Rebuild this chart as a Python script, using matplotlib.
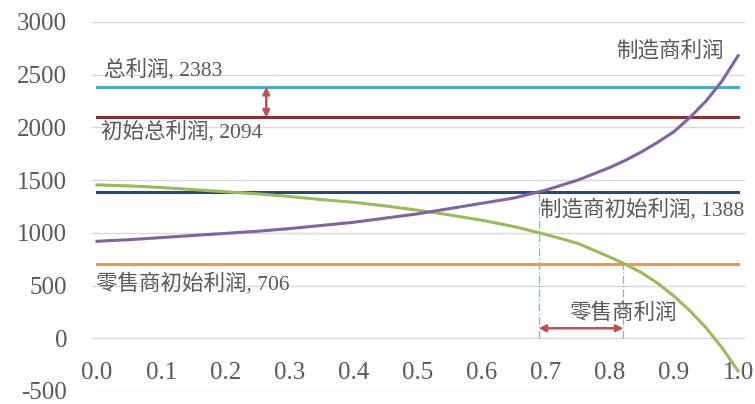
import matplotlib.pyplot as plt

# shared x positions (sharing ratio)
x = [0.00, 0.05, 0.10, 0.15, 0.20, 0.25, 0.30, 0.35, 0.40, 0.45, 0.50,
     0.55, 0.60, 0.65, 0.70, 0.75, 0.80, 0.825, 0.85, 0.875, 0.90,
     0.925, 0.95, 0.975, 1.00]

# manufacturer profit (purple) and retailer profit (green)
maker_profit = [920, 935, 955, 975, 995, 1015, 1040, 1070, 1100, 1140, 1180,
                1230, 1280, 1330, 1405, 1500, 1620, 1690, 1770, 1860, 1960,
                2095, 2250, 2440, 2680]
retail_profit = [1455, 1445, 1430, 1410, 1390, 1370, 1345, 1315, 1290, 1255, 1215,
                 1170, 1120, 1060, 985, 900, 770, 700, 620, 520, 400,
                 260, 100, -90, -310]

# constant reference levels
total_profit = 2383
init_total = 2094
init_maker = 1388
init_retail = 706

# crossing points marked with the dash-dot guides
x_maker_cross = 0.689
x_retail_cross = 0.821

xticks = [0.0, 0.1, 0.2, 0.3, 0.4, 0.5, 0.6, 0.7, 0.8, 0.9, 1.0]
yticks = [-500, 0, 500, 1000, 1500, 2000, 2500, 3000]

fam = ['Liberation Serif', 'Noto Sans CJK SC']
txt = '#595959'

fig = plt.figure(figsize=(7.55, 4.04), dpi=100)
ax = fig.add_axes([0.1219, 0.0322, 0.865, 0.9134])

ax.set_xlim(-0.0078, 1.011)
ax.set_ylim(-500, 3000)
ax.set_yticks(yticks)
ax.set_yticklabels([str(v) for v in yticks], family=fam, fontsize=18, color=txt)
ax.set_xticks([])
ax.tick_params(axis='y', length=0, pad=18)
ax.grid(axis='y', color='#d9d9d9', lw=1)
ax.set_axisbelow(True)
for s in ax.spines.values():
    s.set_visible(False)

# x tick labels sit below the zero line
for t in xticks:
    ax.text(t, -330, f'{t:.1f}', ha='center', va='center', family=fam,
            fontsize=18, color=txt)

ax.plot([0, 1], [total_profit] * 2, color='#4bacc6', lw=2.2)
ax.plot([0, 1], [init_total] * 2, color='#8b2f33', lw=2.2)
ax.plot([0, 1], [init_maker] * 2, color='#264a73', lw=2.2)
ax.plot([0, 1], [init_retail] * 2, color='#f79646', lw=2.2)
ax.plot(x, retail_profit, color='#9bbb59', lw=2.2)
ax.plot(x, maker_profit, color='#8064a2', lw=2.2)

# dash-dot guides
ax.plot([x_maker_cross] * 2, [0, init_maker], color='#7fb0df', lw=0.9,
        ls=(0, (6, 2, 1, 2)))
ax.plot([x_retail_cross] * 2, [0, init_retail], color='#7fb0df', lw=0.9,
        ls=(0, (6, 2, 1, 2)))

arrow = dict(arrowstyle='<|-|>', color='#c0504d', lw=1.8, mutation_scale=10,
             shrinkA=0, shrinkB=0)
ax.annotate('', xy=(x_maker_cross, 95), xytext=(x_retail_cross, 95), arrowprops=arrow)
ax.annotate('', xy=(0.264, total_profit), xytext=(0.264, init_total), arrowprops=arrow)

kw = dict(family=fam, fontsize=15.5, color=txt, va='center')
ax.text(0.011, 2543, '总利润, 2383', ha='left', **kw)
ax.text(0.006, 1964, '初始总利润, 2094', ha='left', **kw)
ax.text(0.691, 1224, '制造商初始利润, 1388', ha='left', **kw)
ax.text(-0.002, 522, '零售商初始利润, 706', ha='left', **kw)
ax.text(0.977, 2723, '制造商利润', ha='right', **kw)
ax.text(0.82, 237, '零售商利润', ha='center', **kw)

fig.savefig('out.png', dpi=100)
